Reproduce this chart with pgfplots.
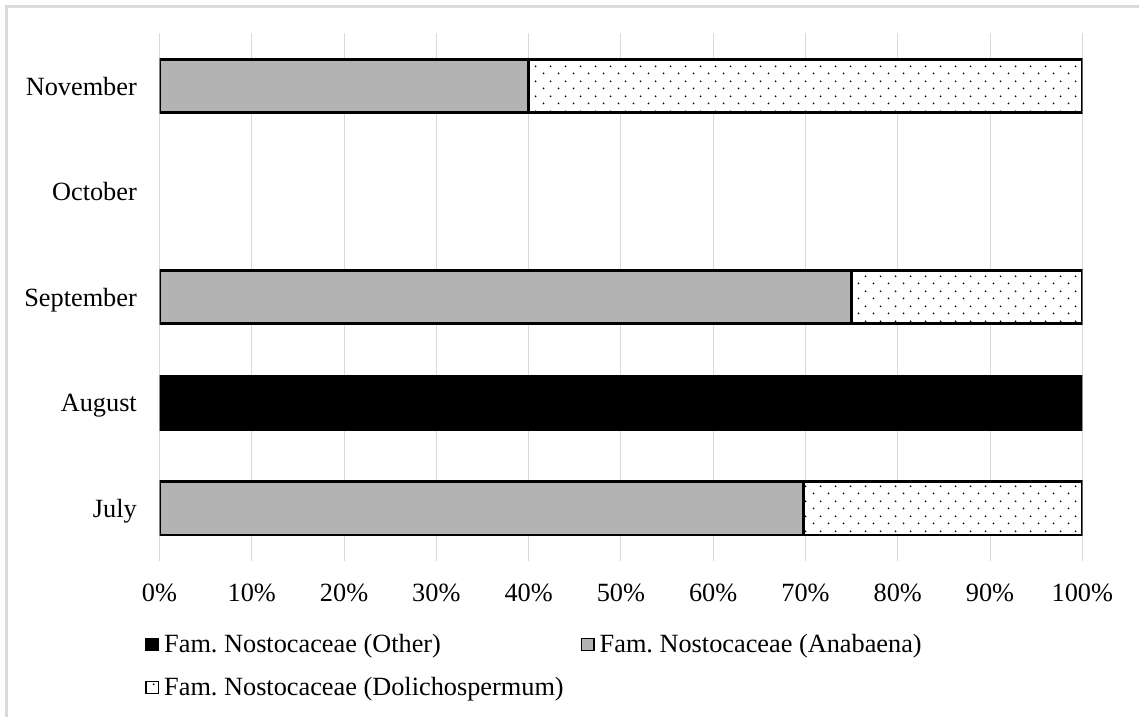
\documentclass[border=0pt]{standalone}
\usepackage{pgfplots}
\pgfplotsset{compat=1.18}
\usepackage{fontspec}
\setmainfont{Liberation Serif}
\usetikzlibrary{patterns}

\definecolor{anabaena}{RGB}{179,179,179}
\definecolor{gridgray}{RGB}{217,217,217}
\definecolor{framegray}{RGB}{218,218,218}

% sparse staggered dot fill
\pgfdeclarepatternformonly{sparsedots}{\pgfpointorigin}{\pgfpoint{15bp}{14.6bp}}{\pgfpoint{15bp}{14.6bp}}{%
  \pgfpathcircle{\pgfpoint{3.75bp}{3.65bp}}{1bp}%
  \pgfpathcircle{\pgfpoint{11.25bp}{10.95bp}}{1bp}%
  \pgfusepath{fill}}

\begin{document}
\frenchspacing
\begin{tikzpicture}
\begin{axis}[
  scale only axis,
  width=922.8bp, height=527.5bp,
  at={(159.5bp,156bp)}, anchor=south west,
  xbar stacked,
  bar width=53bp,
  xmin=0, xmax=100,
  ymin=-0.5, ymax=4.5,
  xtick={0,10,...,100},
  xticklabels={0\%,10\%,20\%,30\%,40\%,50\%,60\%,70\%,80\%,90\%,100\%},
  ytick={0,1,2,3,4},
  yticklabels={July,August,September,October,November},
  axis line style={draw=none},
  major tick length=0pt,
  xmajorgrids,
  grid style={gridgray, line width=1bp},
  ymajorgrids=false,
  tick label style={font=\fontsize{26.4}{31}\selectfont},
  xticklabel style={anchor=north, inner sep=0pt, text height=17.8bp, text depth=0pt, yshift=-22bp},
  yticklabel style={anchor=east, inner sep=0pt, text height=17.6bp, text depth=0pt, xshift=-22.5bp},
  legend columns=2,
  legend cell align=left,
  legend style={
    at={(-0.0157,-0.1384)}, anchor=north west,
    draw=none, fill=none,
    font=\fontsize{26.4}{31}\selectfont,
    inner sep=0pt,
    row sep=19bp,
    nodes={inner sep=0pt, text height=18bp, text depth=6bp},
    /tikz/every odd column/.append style={column sep=5bp},
    /tikz/every even column/.append style={column sep=17bp},
  },
  legend image code/.code={%
    \draw[#1, line width=1.4bp] (0.7bp,-4.3bp) rectangle (13.3bp,7.6bp);},
  every axis plot/.append style={draw=black, line width=2.5bp},
]
% October has no counts and is left empty
\addplot[fill=black] coordinates {(0,0) (100,1) (0,2) (0,4)};
\addplot[fill=anabaena] coordinates {(69.77,0) (0,1) (75,2) (40,4)};
\addplot[fill=white, postaction={pattern=sparsedots}] coordinates {(30.23,0) (0,1) (25,2) (60,4)};
\legend{Fam. Nostocaceae (Other), Fam. Nostocaceae (Anabaena), Fam. Nostocaceae (Dolichospermum)}
\end{axis}
\draw[framegray, line width=2.5bp] (6.7bp,-20bp) -- (6.7bp,710.5bp) -- (1160bp,710.5bp);
\pgfresetboundingbox
\useasboundingbox (0,0) rectangle (1139bp,717bp);
\end{tikzpicture}
\end{document}
